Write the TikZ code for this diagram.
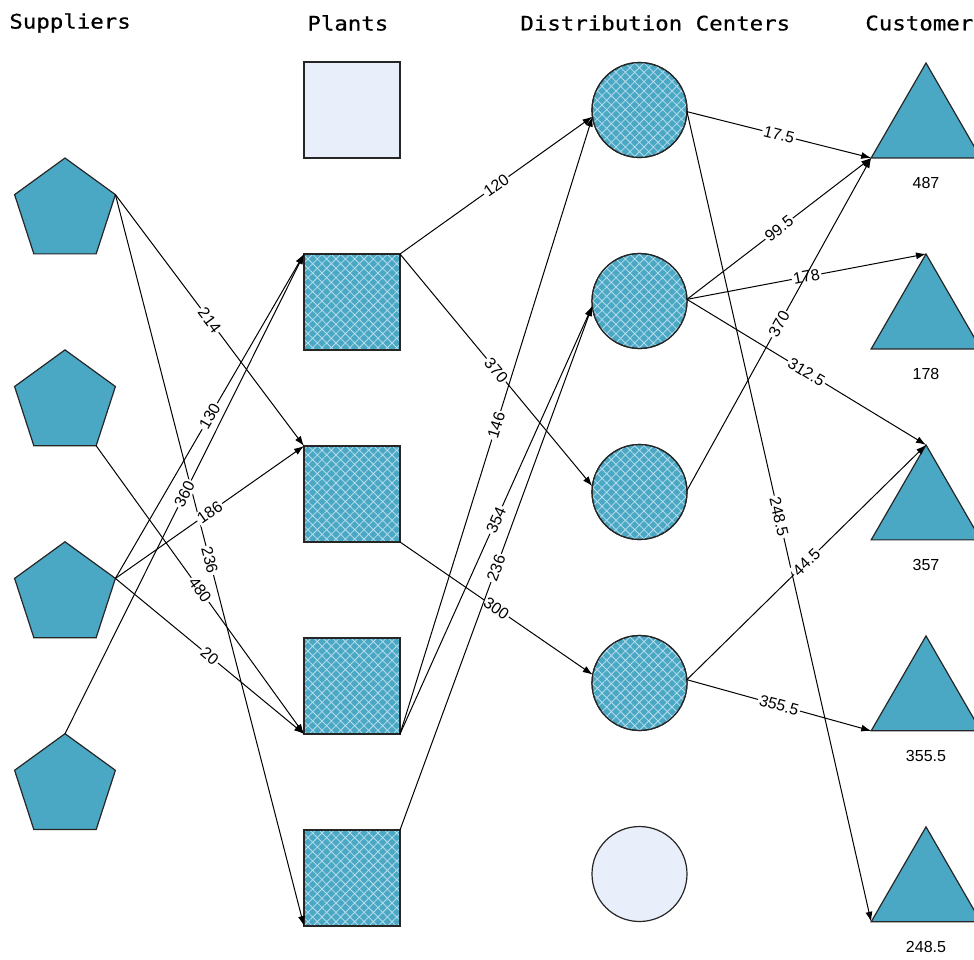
\documentclass[tikz,border=0pt]{standalone}
\usepackage{fontspec}
\setmainfont{Liberation Sans}
\newfontfamily\headfont{DejaVu Sans Mono}[FakeStretch=1.12, FakeBold=0.6]
\usetikzlibrary{shapes.geometric, arrows.meta, positioning, patterns.meta}
\definecolor{nodeblue}{RGB}{75,168,196}
\definecolor{emptyfill}{RGB}{232,238,250}
\definecolor{hatchcol}{RGB}{180,220,234}

\begin{document}
\begin{tikzpicture}[
    x=0.5pt, y=-0.5pt,
    node distance=48pt,
    supplier/.style={regular polygon, regular polygon sides=5, minimum size=53pt, inner sep=0pt, outer sep=0pt, draw=black!85, line width=0.6pt, fill=nodeblue},
    plant/.style={rectangle, draw=black!85, line width=0.6pt, minimum size=48pt, inner sep=0pt, outer sep=0pt},
    dc/.style={circle, draw=black!85, line width=0.6pt, minimum size=47.5pt, inner sep=0pt, outer sep=0pt},
    customer/.style={regular polygon, regular polygon sides=3, minimum size=63.3pt, inner sep=0pt, outer sep=0pt, draw=black!85, line width=0.6pt, fill=nodeblue},
    hatched/.style={fill=nodeblue,
        postaction={pattern={Hatch[angle=45, distance=3.3pt, line width=0.4pt]}, pattern color=hatchcol},
        postaction={draw=black!85, line width=0.6pt}},
    unused/.style={fill=emptyfill},
    flow/.style={-{Latex[length=5pt, width=3.5pt]}, line width=0.5pt},
    qty/.style={font=\fontsize{8}{9}\selectfont, fill=white, inner sep=0.8pt, sloped},
    demand/.style={font=\fontsize{8}{9}\selectfont, inner sep=0pt},
    head/.style={font=\headfont\fontsize{10}{12}\selectfont, anchor=west, inner sep=0pt}
]
\useasboundingbox (0,0) rectangle (974,959);
\clip (0,0) rectangle (974,959);
% Column headers
\node[head] (hsup) at (9,23) {Suppliers};
\node[head] (hpla) at (307,23) {Plants};
\node[head] (hdc) at (520,23) {Distribution Centers};
\node[head] (hcus) at (865,23) {Customers};
% Suppliers
\node[supplier] (s1) at (65,211) {};
\node[supplier, below=of s1] (s2) {};
\node[supplier, below=of s2] (s3) {};
\node[supplier, below=of s3] (s4) {};
% Plants
\node[plant, unused] (p0) at (352,110) {};
\node[plant, hatched, below=of p0] (p1) {};
\node[plant, hatched, below=of p1] (p2) {};
\node[plant, hatched, below=of p2] (p3) {};
\node[plant, hatched, below=of p3] (p4) {};
% Distribution centers
\node[dc, hatched] (d1) at (639.5,110) {};
\node[dc, hatched, below=of d1] (d2) {};
\node[dc, hatched, below=of d2] (d3) {};
\node[dc, hatched, below=of d3] (d4) {};
\node[dc, unused, below=of d4] (d5) {};
% Customers
\node[customer] (c1) at (926,126.3) {};
\node[customer, below=of c1] (c2) {};
\node[customer, below=of c2] (c3) {};
\node[customer, below=of c3] (c4) {};
\node[customer, below=of c4] (c5) {};
% Demands
\node[demand, below=9.5pt of c1] (n1) {487};
\node[demand, below=9.5pt of c2] (n2) {178};
\node[demand, below=9.5pt of c3] (n3) {357};
\node[demand, below=9.5pt of c4] (n4) {355.5};
\node[demand, below=9.5pt of c5] (n5) {248.5};
% Suppliers to plants
\draw[flow] (s1.corner 5) -- node[qty] {214} (p2.north west);
\draw[flow] (s1.corner 5) -- node[qty] {236} (p4.south west);
\draw[flow] (s2.corner 4) -- node[qty] {480} (p3.south west);
\draw[flow] (s3.corner 5) -- node[qty] {130} (p1.north west);
\draw[flow] (s3.corner 5) -- node[qty] {186} (p2.north west);
\draw[flow] (s3.corner 5) -- node[qty] {20} (p3.south west);
\draw[flow] (s4.corner 1) -- node[qty] {360} (p1.north west);
% Plants to distribution centers
\draw[flow] (p1.north east) -- node[qty] {120} (d1.188);
\draw[flow] (p1.north east) -- node[qty] {370} (d3.173);
\draw[flow] (p2.south east) -- node[qty] {300} (d4.170);
\draw[flow] (p3.south east) -- node[qty] {146} (d1.188);
\draw[flow] (p3.south east) -- node[qty] {354} (d2.186);
\draw[flow] (p4.north east) -- node[qty] {236} (d2.186);
% Distribution centers to customers
\draw[flow] (d1.358) -- node[qty] {17.5} (c1.corner 2);
\draw[flow] (d1.358) -- node[qty] {248.5} (c5.corner 2);
\draw[flow] (d2.2) -- node[qty] {99.5} (c1.corner 2);
\draw[flow] (d2.2) -- node[qty] {178} (c2.corner 1);
\draw[flow] (d2.2) -- node[qty] {312.5} (c3.corner 1);
\draw[flow] (d3.2) -- node[qty] {370} (c1.corner 2);
\draw[flow] (d4.4) -- node[qty] {44.5} (c3.corner 1);
\draw[flow] (d4.4) -- node[qty] {355.5} (c4.corner 2);
\end{tikzpicture}
\end{document}
